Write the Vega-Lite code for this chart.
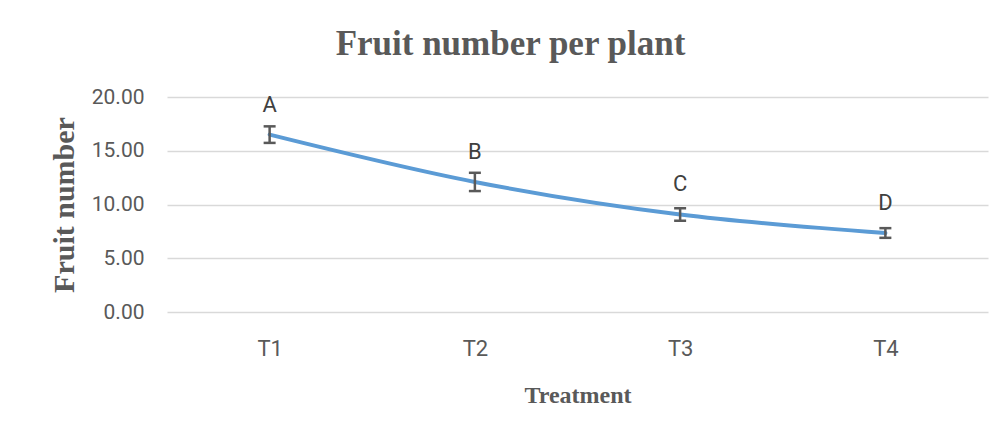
{
  "$schema": "https://vega.github.io/schema/vega-lite/v6.json",
  "autosize": {"type": "none"},
  "width": 821,
  "height": 215,
  "padding": {"left": 167, "top": 97, "right": 16, "bottom": 126},
  "background": "white",
  "config": {"view": {"stroke": null}},
  "title": {
    "text": "Fruit number per plant",
    "font": "Liberation Serif",
    "fontSize": 35,
    "fontWeight": "bold",
    "color": "#595959",
    "anchor": "middle",
    "dx": -67,
    "offset": 24
  },
  "data": {
    "values": [
      {"treatment": "T1", "mean": 16.5, "low": 15.73, "high": 17.27, "group": "A"},
      {"treatment": "T2", "mean": 12.1, "low": 11.25, "high": 12.95, "group": "B"},
      {"treatment": "T3", "mean": 9.07, "low": 8.49, "high": 9.65, "group": "C"},
      {"treatment": "T4", "mean": 7.35, "low": 6.9, "high": 7.8, "group": "D"}
    ]
  },
  "encoding": {
    "x": {
      "field": "treatment",
      "type": "ordinal",
      "scale": {"type": "point", "padding": 0.5},
      "axis": {
        "title": "Treatment",
        "titleFont": "Liberation Serif",
        "titleFontSize": 24,
        "titleFontWeight": "bold",
        "titleColor": "#595959",
        "titlePadding": 24,
        "labelAngle": 0,
        "labelFont": "Roboto",
        "labelFontSize": 22,
        "labelFontWeight": "normal",
        "labelColor": "#595959",
        "labelPadding": 26,
        "ticks": false,
        "domain": false,
        "grid": false
      }
    }
  },
  "layer": [
    {
      "mark": {"type": "line", "interpolate": "monotone", "color": "#5B9BD5", "strokeWidth": 4, "strokeCap": "round"},
      "encoding": {
        "y": {
          "field": "mean",
          "type": "quantitative",
          "title": "Fruit number",
          "scale": {"domain": [0, 20], "nice": false},
          "axis": {
            "titleFont": "Liberation Serif",
            "titleFontSize": 30,
            "titleFontWeight": "bold",
            "titleColor": "#595959",
            "titlePadding": 12,
            "values": [0, 5, 10, 15, 20],
            "format": ".2f",
            "labelFont": "Roboto",
            "labelFontSize": 21,
            "labelColor": "#595959",
            "labelPadding": 23,
            "ticks": false,
            "domain": false,
            "grid": true,
            "gridColor": "#D9D9D9",
            "gridWidth": 1.5
          }
        }
      }
    },
    {
      "mark": {"type": "rule", "color": "#595959", "strokeWidth": 2.5},
      "encoding": {
        "y": {"field": "low", "type": "quantitative", "title": "Fruit number"},
        "y2": {"field": "high"}
      }
    },
    {
      "mark": {"type": "tick", "orient": "horizontal", "color": "#595959", "size": 12, "thickness": 2.5, "opacity": 1},
      "encoding": {
        "y": {"field": "low", "type": "quantitative", "title": "Fruit number"}
      }
    },
    {
      "mark": {"type": "tick", "orient": "horizontal", "color": "#595959", "size": 12, "thickness": 2.5, "opacity": 1},
      "encoding": {
        "y": {"field": "high", "type": "quantitative", "title": "Fruit number"}
      }
    },
    {
      "mark": {"type": "text", "dy": -30, "font": "Roboto", "fontSize": 22, "color": "#404040"},
      "encoding": {
        "y": {"field": "mean", "type": "quantitative", "title": "Fruit number"},
        "text": {"field": "group"}
      }
    }
  ]
}
